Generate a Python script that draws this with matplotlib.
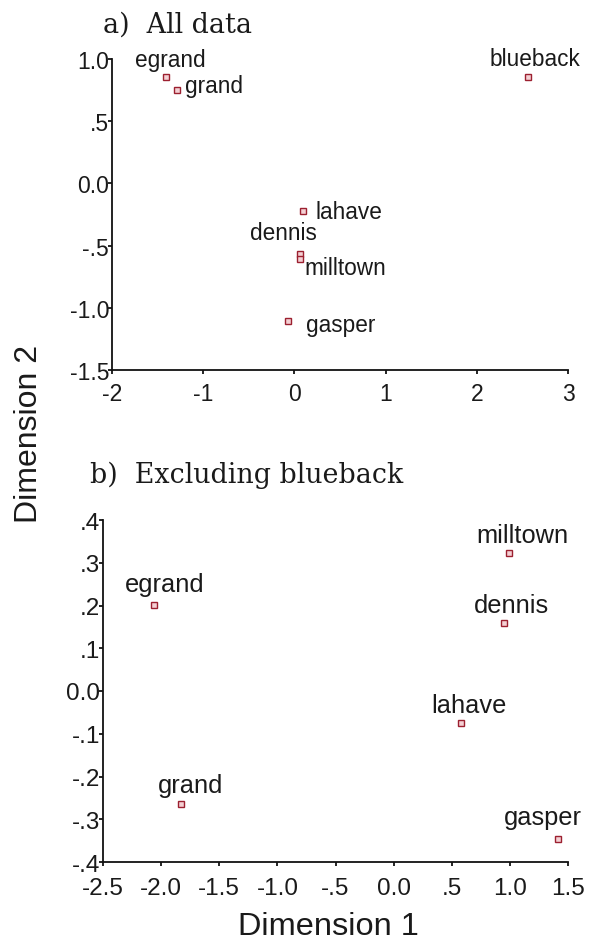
import matplotlib
matplotlib.use("Agg")
import matplotlib.pyplot as plt
from matplotlib.ticker import FixedLocator, FixedFormatter

# ---------------- data ----------------
names_a = ["egrand", "grand", "blueback", "lahave", "dennis", "milltown", "gasper"]
dim1_a = [-1.41, -1.29, 2.565, 0.098, 0.06, 0.06, -0.067]
dim2_a = [0.857, 0.75, 0.857, -0.218, -0.565, -0.605, -1.11]

names_b = ["egrand", "grand", "milltown", "dennis", "lahave", "gasper"]
dim1_b = [-2.059, -1.829, 0.99, 0.952, 0.58, 1.417]
dim2_b = [0.202, -0.265, 0.323, 0.159, -0.075, -0.347]

xticks_a = [-2, -1, 0, 1, 2, 3]
xticklabels_a = ["-2", "-1", "0", "1", "2", "3"]
yticks_a = [1.0, 0.5, 0.0, -0.5, -1.0, -1.5]
yticklabels_a = ["1.0", ".5", "0.0", "-.5", "-1.0", "-1.5"]

xticks_b = [-2.5, -2.0, -1.5, -1.0, -0.5, 0.0, 0.5, 1.0, 1.5]
xticklabels_b = ["-2.5", "-2.0", "-1.5", "-1.0", "-.5", "0.0", ".5", "1.0", "1.5"]
yticks_b = [0.4, 0.3, 0.2, 0.1, 0.0, -0.1, -0.2, -0.3, -0.4]
yticklabels_b = [".4", ".3", ".2", ".1", "0.0", "-.1", "-.2", "-.3", "-.4"]

# label placement (offset in points, horizontal alignment)
offs_a = {"egrand": (3.6, 7.7, "center"), "grand": (6, -1.7, "left"),
          "blueback": (5, 8.4, "center"), "lahave": (8.4, -5.3, "left"),
          "dennis": (-12, 10.8, "center"), "milltown": (3.6, -11, "left"),
          "gasper": (12.7, -7.2, "left")}
offs_b = {"egrand": (7.7, 10, "center"), "grand": (7, 8.9, "center"),
          "milltown": (10, 8.1, "center"), "dennis": (5.5, 7.7, "center"),
          "lahave": (5.9, 7.9, "center"), "gasper": (-11.4, 11.3, "center")}

W, H = 595, 945
fig = plt.figure(figsize=(W / 100, H / 100), dpi=100)
fig.patch.set_facecolor("white")

SANS = ["Liberation Sans", "DejaVu Sans"]
SERIF = ["DejaVu Serif"]
TXT = "#1a1a1a"


def px_axes(left, right, top, bottom):
    return [left / W, 1 - bottom / H, (right - left) / W, (bottom - top) / H]


def style(ax, xt, xtl, yt, ytl, xlim, ylim, fs, xpad):
    ax.set_xlim(*xlim)
    ax.set_ylim(*ylim)
    for s in ("top", "right"):
        ax.spines[s].set_visible(False)
    for s in ("left", "bottom"):
        ax.spines[s].set_linewidth(1.3)
        ax.spines[s].set_color("#111111")
    ax.xaxis.set_major_locator(FixedLocator(xt))
    ax.xaxis.set_major_formatter(FixedFormatter(xtl))
    ax.yaxis.set_major_locator(FixedLocator(yt))
    ax.yaxis.set_major_formatter(FixedFormatter(ytl))
    ax.tick_params(axis="x", direction="out", length=3, width=1.2, pad=xpad,
                   labelsize=fs, labelcolor=TXT)
    ax.tick_params(axis="y", direction="out", length=3, width=1.2, pad=-1,
                   labelsize=fs, labelcolor=TXT)
    for lab in ax.get_xticklabels() + ax.get_yticklabels():
        lab.set_family(SANS)


def draw(ax, xs, ys, names, offs, fs):
    ax.plot(xs, ys, linestyle="none", marker="s", markersize=4.4,
            markerfacecolor="#f4d0d4", markeredgecolor="#9c2030",
            markeredgewidth=1.0, clip_on=False)
    for x, y, n in zip(xs, ys, names):
        dx, dy, ha = offs[n]
        ax.annotate(n, (x, y), xytext=(dx, dy), textcoords="offset points",
                    ha=ha, va="baseline", fontsize=fs, family=SANS, color=TXT)


ax1 = fig.add_axes(px_axes(112, 568, 60, 371))
style(ax1, xticks_a, xticklabels_a, yticks_a, yticklabels_a,
      (-2, 3), (-1.5, 1.0), 16.5, 5.5)
draw(ax1, dim1_a, dim2_a, names_a, offs_a, 16.3)

ax2 = fig.add_axes(px_axes(103, 568, 521, 863))
style(ax2, xticks_b, xticklabels_b, yticks_b, yticklabels_b,
      (-2.5, 1.5), (-0.4, 0.4), 17.5, 8)
draw(ax2, dim1_b, dim2_b, names_b, offs_b, 18.3)

fig.text(103 / W, 1 - 33 / H, "a)  All data", family=SERIF, fontsize=19.4,
         ha="left", va="baseline", color=TXT)
fig.text(90 / W, 1 - 483 / H, "b)  Excluding blueback", family=SERIF,
         fontsize=19.4, ha="left", va="baseline", color=TXT)
fig.text(29 / W, 1 - 434 / H, "Dimension 2", family=SANS, fontsize=23,
         rotation=90, ha="center", va="center", color=TXT)
fig.text(328 / W, 1 - 935 / H, "Dimension 1", family=SANS, fontsize=23.4,
         ha="center", va="baseline", color=TXT)

fig.savefig("out.png", dpi=100, facecolor="white")
